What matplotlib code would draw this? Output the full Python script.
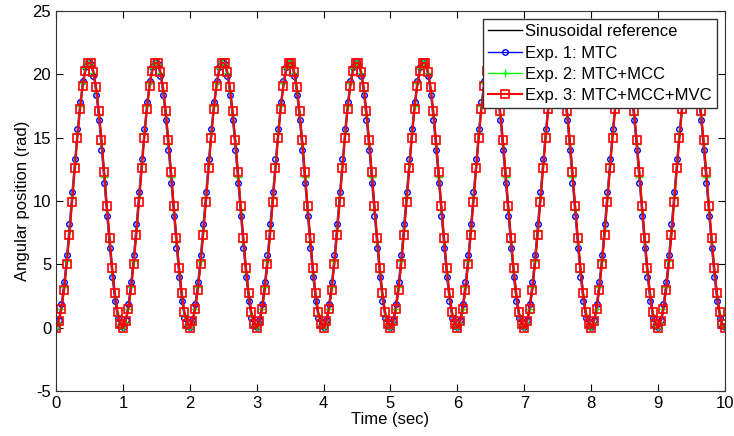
import numpy as np
import matplotlib
matplotlib.use('Agg')
import matplotlib.pyplot as plt

# one period (1 s) of each signal, samples every 0.04 s
dt = 0.04
n_cycles = 10
ref_cycle = [0.0, 0.33, 1.30, 2.85, 4.87, 7.26, 9.84, 12.47, 14.97, 17.19, 18.99,
             20.26, 20.92, 20.92, 20.26, 18.99, 17.19, 14.97, 12.47, 9.84, 7.26,
             4.87, 2.85, 1.30, 0.33]
exp1_cycle = [0.05, 0.6, 1.9, 3.6, 5.7, 8.2, 10.7, 13.3, 15.7, 17.8, 19.5,
              20.6, 21.0, 20.8, 19.9, 18.4, 16.4, 14.0, 11.4, 8.8, 6.3,
              4.0, 2.1, 0.8, 0.1]
exp2_cycle = [0.0, 0.4, 1.5, 3.2, 5.3, 7.7, 10.3, 12.9, 15.4, 17.5, 19.3,
              20.5, 21.0, 20.8, 20.1, 18.7, 16.8, 14.5, 11.9, 9.3, 6.8,
              4.4, 2.5, 1.0, 0.2]
exp3_cycle = [0.0, 0.5, 1.5, 3.0, 5.0, 7.3, 9.9, 12.6, 15.0, 17.3, 19.1,
              20.3, 20.9, 20.9, 20.2, 19.0, 17.1, 14.8, 12.3, 9.6, 7.1,
              4.7, 2.7, 1.2, 0.3]

t = np.arange(n_cycles * len(ref_cycle) + 1) * dt
ref = np.append(np.tile(ref_cycle, n_cycles), ref_cycle[0])
exp1 = np.append(np.tile(exp1_cycle, n_cycles), exp1_cycle[0])
exp2 = np.append(np.tile(exp2_cycle, n_cycles), exp2_cycle[0])
exp3 = np.append(np.tile(exp3_cycle, n_cycles), exp3_cycle[0])

plt.rcParams['font.family'] = ['Arial', 'Liberation Sans', 'DejaVu Sans']
plt.rcParams['axes.unicode_minus'] = False

fig = plt.figure(figsize=(7.34, 4.36), dpi=100)
ax = fig.add_axes([0.0763, 0.1032, 0.9114, 0.8716])

ax.plot(t, ref, color='k', lw=1.0, label='Sinusoidal reference')
ax.plot(t, exp1, color='#0000ff', lw=1.0, marker='o', ms=4, mfc='none',
        mew=1.0, label='Exp. 1: MTC')
ax.plot(t, exp2, color='#00ff00', lw=1.0, marker='+', ms=6, mew=1.0,
        label='Exp. 2: MTC+MCC')
ax.plot(t, exp3, color='#ff0000', lw=1.5, marker='s', ms=6, mfc='none',
        mew=1.2, label='Exp. 3: MTC+MCC+MVC')

ax.set_xlim(0, 10)
ax.set_ylim(-5, 25)
ax.set_xticks(np.arange(0, 11, 1))
ax.set_yticks(np.arange(-5, 26, 5))
ax.tick_params(direction='in', top=True, right=True, labelsize=12, length=5)
ax.set_xlabel('Time (sec)', fontsize=12, labelpad=1)
ax.set_ylabel('Angular position (rad)', fontsize=12, labelpad=2)
for s in ax.spines.values():
    s.set_color('#333333')

leg = ax.legend(loc='upper right', fontsize=12, fancybox=False, framealpha=1,
                edgecolor='#333333', borderpad=0.3, labelspacing=0.38,
                handlelength=2.0, handletextpad=0.2, borderaxespad=0.5)

fig.savefig('out.png', dpi=100)
